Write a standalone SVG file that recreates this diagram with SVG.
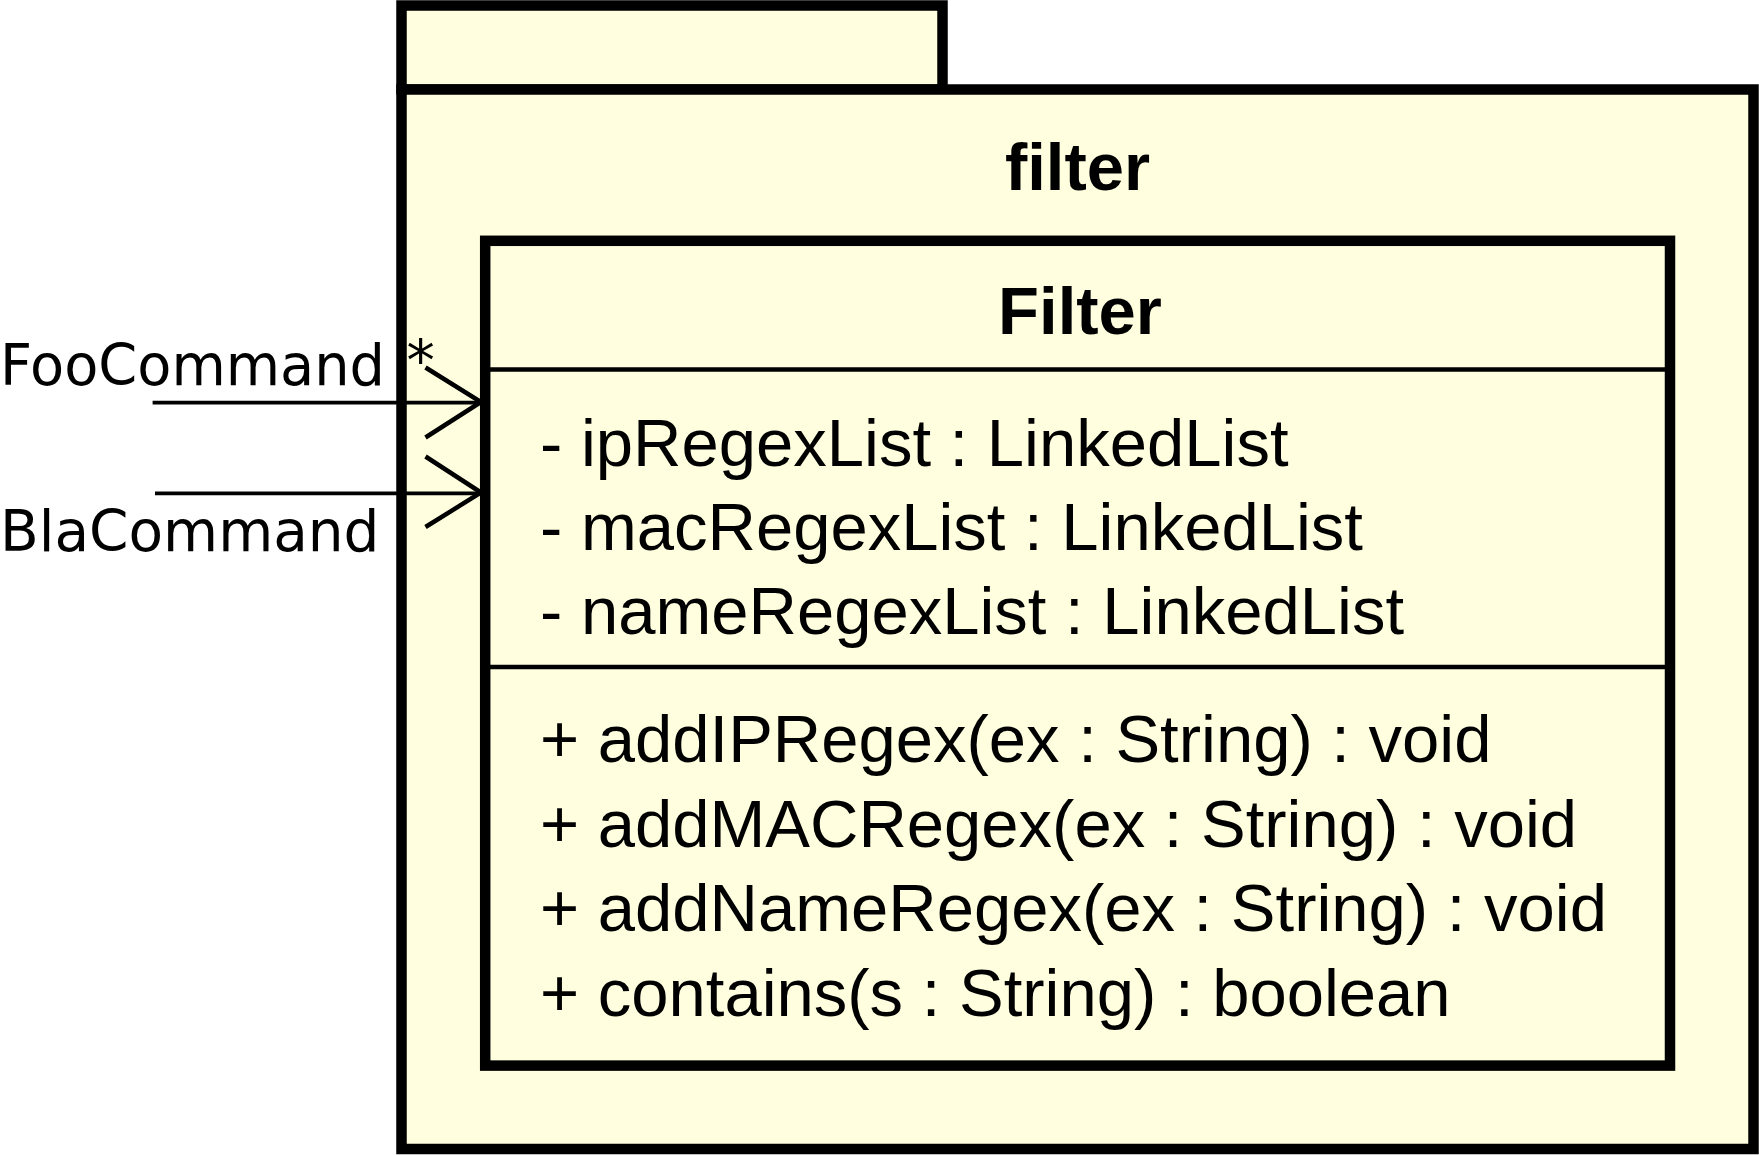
<svg xmlns="http://www.w3.org/2000/svg" width="1759" height="1155" viewBox="0 0 1759 1155">
<style>
.box{fill:#ffffe0;stroke:#000;stroke-width:10.5}
.sep{stroke:#000;stroke-width:4.5}
.conn{stroke:#000;stroke-width:3.8;fill:none}
.head{stroke:#000;stroke-width:4.5;fill:none}
.uml{font-family:"Liberation Sans",Arial,sans-serif;font-size:67px;fill:#000}
.bold{font-weight:bold}
.lbl{font-family:"DejaVu Sans",sans-serif;font-size:56.5px;fill:#000}
</style>
<rect width="1759" height="1155" fill="#fff"/>
<g id="package-filter">
<rect class="box" x="401.5" y="5.5" width="541" height="84"/>
<rect class="box" x="401.5" y="89.5" width="1352" height="1059.5"/>
<text class="uml bold" x="1077.5" y="190" text-anchor="middle">filter</text>
</g>
<g id="class-Filter">
<rect class="box" x="485.2" y="240.8" width="1184.8" height="824.8"/>
<line class="sep" x1="485" y1="369.5" x2="1670" y2="369.5"/>
<line class="sep" x1="485" y1="667" x2="1670" y2="667"/>
<text class="uml bold" x="1080" y="334" text-anchor="middle">Filter</text>
<text class="uml" x="540" y="465.5">- ipRegexList : LinkedList</text>
<text class="uml" x="540" y="549.5">- macRegexList : LinkedList</text>
<text class="uml" x="540" y="633.5">- nameRegexList : LinkedList</text>
<text class="uml" x="540" y="762">+ addIPRegex(ex : String) : void</text>
<text class="uml" x="540" y="846.5">+ addMACRegex(ex : String) : void</text>
<text class="uml" x="540" y="931">+ addNameRegex(ex : String) : void</text>
<text class="uml" x="540" y="1015.5">+ contains(s : String) : boolean</text>
</g>
<g id="connectors">
<line class="conn" x1="152.6" y1="402.6" x2="481" y2="402.6"/>
<polyline class="head" points="425.5,367.5 481,402 425.5,437.5"/>
<line class="conn" x1="155" y1="493.3" x2="481" y2="493.3"/>
<polyline class="head" points="425.5,456.5 481,492.5 425.5,527"/>
<text class="lbl" x="0" y="385" textLength="385" lengthAdjust="spacingAndGlyphs">FooCommand</text>
<text class="lbl" x="0" y="550.7">BlaCommand</text>
<text class="lbl" x="420.5" y="380" text-anchor="middle">*</text>
</g>
</svg>
